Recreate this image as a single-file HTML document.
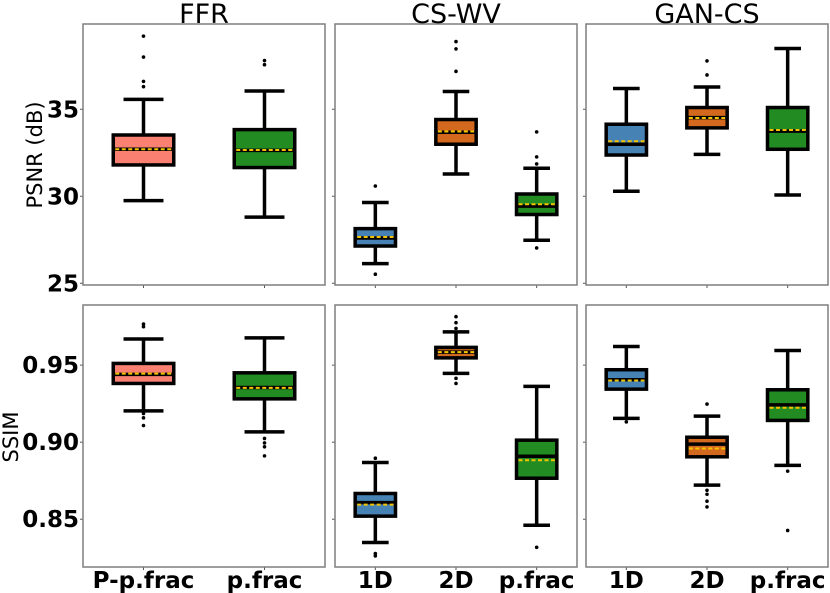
<!DOCTYPE html>
<html><head><meta charset="utf-8">
<style>
html,body{margin:0;padding:0;background:#fff;}
svg{display:block;font-family:"DejaVu Sans","Liberation Sans",sans-serif;}
</style></head>
<body>
<svg id="chart" width="830" height="593" viewBox="0 0 830 593" xmlns="http://www.w3.org/2000/svg">
  <g>
    <text x="204" y="23" font-size="27" text-anchor="middle">FFR</text>
    <text x="456" y="23" font-size="27" text-anchor="middle">CS-WV</text>
    <text x="707" y="23" font-size="27" text-anchor="middle">GAN-CS</text>
  </g>
  <text transform="translate(42,155) rotate(-90)" font-size="21" text-anchor="middle">PSNR (dB)</text>
  <text transform="translate(18,437) rotate(-90)" font-size="21" text-anchor="middle">SSIM</text>
  <g id="panels"></g>
</svg>
<script>
// ---- data ----
const columns = ["FFR", "CS-WV", "GAN-CS"];
const categoriesFFR = ["P-p.frac", "p.frac"];
const categoriesCS = ["1D", "2D", "p.frac"];
const categoriesGAN = ["1D", "2D", "p.frac"];
const colorsFFR = ["#fa8072", "#228b22"];
const colorsCS = ["#4682b4", "#d2691e", "#228b22"];

// [whiskerLow, Q1, median, Q3, whiskerHigh, mean]
const psnrFFR = [[29.75, 31.8, 32.7, 33.52, 35.57, 32.7], [28.8, 31.65, 32.64, 33.83, 36.05, 32.66]];
const psnrFFROut = [[39.2, 38.0, 36.6, 36.3], [37.8, 37.56]];
const psnrCS = [[26.13, 27.14, 27.6, 28.14, 29.64, 27.66], [31.28, 32.99, 33.68, 34.41, 36.02, 33.72], [27.47, 28.95, 29.43, 30.13, 31.61, 29.54]];
const psnrCSOut = [[30.59, 25.52], [38.89, 38.47, 37.18], [33.7, 32.26, 31.86, 27.03]];
const psnrGAN = [[30.29, 32.37, 32.99, 34.14, 36.19, 33.16], [32.41, 33.93, 34.52, 35.1, 36.28, 34.5], [30.07, 32.7, 33.74, 35.1, 38.49, 33.81]];
const psnrGANOut = [[], [37.78, 36.97], []];

const ssimFFR = [[0.9203, 0.9381, 0.944, 0.9511, 0.9669, 0.9445], [0.9067, 0.9281, 0.9355, 0.945, 0.9677, 0.9352]];
const ssimFFROut = [[0.9766, 0.9749, 0.9186, 0.9158, 0.9108], [0.9024, 0.8995, 0.897, 0.8911]];
const ssimCS = [[0.8349, 0.852, 0.8608, 0.8667, 0.8868, 0.8595], [0.9446, 0.9547, 0.9584, 0.9615, 0.9716, 0.9584], [0.8461, 0.8766, 0.8909, 0.9013, 0.9362, 0.8883]];
const ssimCSOut = [[0.8896, 0.8277, 0.8262], [0.9814, 0.9775, 0.9738, 0.9414, 0.9381], [0.8318]];
const ssimGAN = [[0.9154, 0.9344, 0.9405, 0.947, 0.9621, 0.940], [0.8721, 0.8905, 0.8987, 0.9032, 0.9169, 0.8959], [0.8849, 0.9141, 0.9242, 0.934, 0.9595, 0.9223]];
const ssimGANOut = [[0.9132], [0.9247, 0.8688, 0.8662, 0.8617, 0.858], [0.8812, 0.8427]];

const psnrTicks = [25, 30, 35];
const psnrTickLabels = ["25", "30", "35"];
const ssimTicks = [0.85, 0.90, 0.95];
const ssimTickLabels = ["0.85", "0.90", "0.95"];

// ---- layout ----
const NS = "http://www.w3.org/2000/svg";
const root = document.getElementById("panels");
const colX = [[83, 325], [335, 577], [586, 828]];
const rows = [
  {top: 24, bot: 285, dom: [24.9, 39.9], ticks: psnrTicks, labels: psnrTickLabels, name: "psnr"},
  {top: 305, bot: 567, dom: [0.819, 0.989], ticks: ssimTicks, labels: ssimTickLabels, name: "ssim"}
];
const panelData = [
  [[psnrFFR, psnrFFROut, categoriesFFR, colorsFFR], [psnrCS, psnrCSOut, categoriesCS, colorsCS], [psnrGAN, psnrGANOut, categoriesGAN, colorsCS]],
  [[ssimFFR, ssimFFROut, categoriesFFR, colorsFFR], [ssimCS, ssimCSOut, categoriesCS, colorsCS], [ssimGAN, ssimGANOut, categoriesGAN, colorsCS]]
];

function mk(tag, attrs, parent) {
  const e = document.createElementNS(NS, tag);
  for (const k in attrs) e.setAttribute(k, attrs[k]);
  parent.appendChild(e);
  return e;
}

rows.forEach((row, ri) => {
  colX.forEach((cx, ci) => {
    const [stats, outs, cats, cols] = panelData[ri][ci];
    const g = mk("g", {}, root);
    
    
    const y = v => row.bot - (v - row.dom[0]) / (row.dom[1] - row.dom[0]) * (row.bot - row.top);
    const n = cats.length;
    const unit = (cx[1] - cx[0]) / n;
    const x = i => cx[0] + unit * (i + 0.5);
    const bw = unit * 0.5, cw = bw * 0.66;

    // y ticks
    row.ticks.forEach((t, ti) => {
      const tk = mk("line", {x1: cx[0] - 3, x2: cx[0], y1: y(t), y2: y(t), stroke: "#555", "stroke-width": 1}, g);
      
      
      if (ci === 0) {
        const tl = mk("text", {x: cx[0] - 4, y: y(t) + 8, "font-size": 23, "font-weight": "bold", "text-anchor": "end"}, g);
        tl.textContent = row.labels[ti];
        
        
      }
    });

    cats.forEach((c, i) => {
      const s = stats[i];
      const bx = mk("g", {}, g);
      
      
      const xc = x(i);
      const lineStyle = {stroke: "#000", "stroke-width": 3.5};
      mk("line", Object.assign({x1: xc, x2: xc, y1: y(s[0]), y2: y(s[1])}, lineStyle), bx);
      mk("line", Object.assign({x1: xc, x2: xc, y1: y(s[3]), y2: y(s[4])}, lineStyle), bx);
      mk("line", Object.assign({x1: xc - cw / 2, x2: xc + cw / 2, y1: y(s[0]), y2: y(s[0])}, lineStyle), bx);
      mk("line", Object.assign({x1: xc - cw / 2, x2: xc + cw / 2, y1: y(s[4]), y2: y(s[4])}, lineStyle), bx);
      mk("rect", {x: xc - bw / 2, y: y(s[3]), width: bw, height: y(s[1]) - y(s[3]), fill: cols[i], stroke: "#000", "stroke-width": 3.5}, bx);
      mk("line", Object.assign({x1: xc - bw / 2, x2: xc + bw / 2, y1: y(s[2]), y2: y(s[2])}, lineStyle), bx);
      mk("line", {x1: xc - bw / 2 + 2, x2: xc + bw / 2 - 2, y1: y(s[5]), y2: y(s[5]), stroke: "#f5c400", "stroke-width": 2, "stroke-dasharray": "4,2.5"}, bx);
      outs[i].forEach(o => {
        const p = mk("circle", {cx: xc, cy: y(o), r: 1.8, fill: "#000"}, bx);
        
        
      });
      // x tick
      mk("line", {x1: xc, x2: xc, y1: row.bot, y2: row.bot + 3, stroke: "#555", "stroke-width": 1}, g);
      if (ri === 1) {
        const xl = mk("text", {x: xc, y: 588, "font-size": 23, "font-weight": "bold", "text-anchor": "middle"}, g);
        xl.textContent = c;
        
        
      }
    });

    const fr = mk("rect", {x: cx[0], y: row.top, width: cx[1] - cx[0], height: row.bot - row.top, fill: "none", stroke: "#7f7f7f", "stroke-width": 1.5}, g);
    
    
  });
});
</script>
</body></html>
